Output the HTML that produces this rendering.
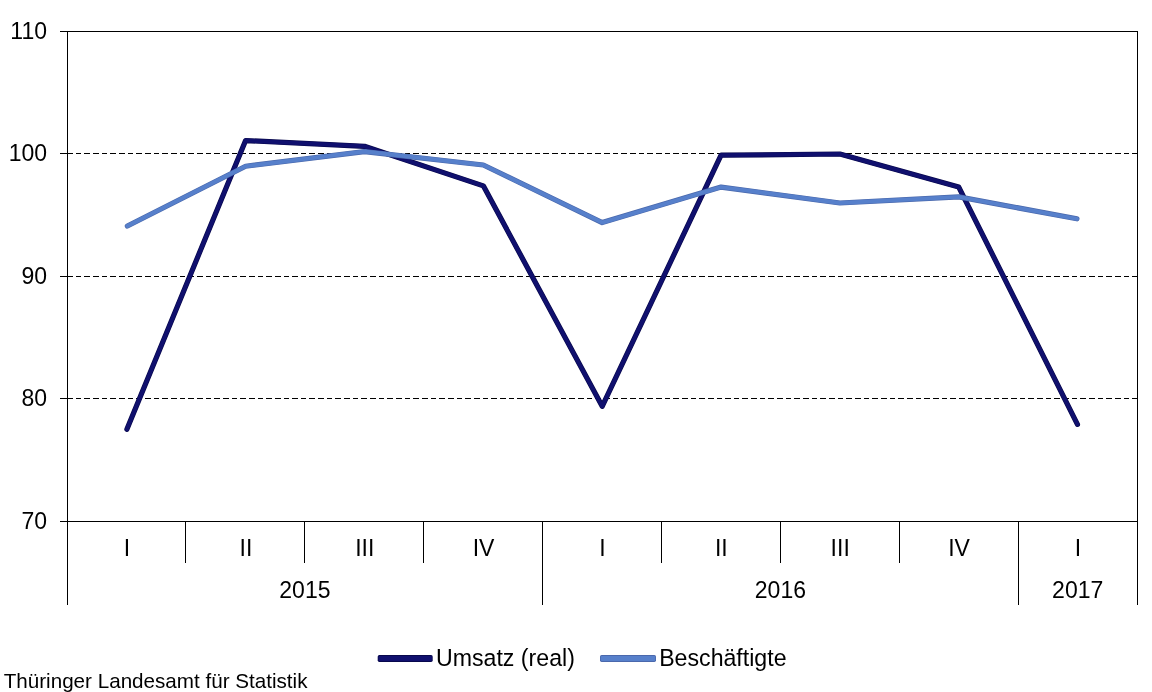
<!DOCTYPE html>
<html><head><meta charset="utf-8"><title>Chart</title>
<style>
html,body{margin:0;padding:0;background:#fff;}
body{width:1152px;height:692px;overflow:hidden;font-family:"Liberation Sans",sans-serif;}
svg{display:block;will-change:transform;}
text{font-family:"Liberation Sans",sans-serif;fill:#000;}
.ax{stroke:#000;stroke-width:1;shape-rendering:crispEdges;fill:none;}
.gr{stroke:#000;stroke-width:1;stroke-dasharray:5.66 3;shape-rendering:crispEdges;fill:none;}
.t{font-size:23px;}
</style></head><body>
<svg width="1152" height="692" viewBox="0 0 1152 692">
<rect width="1152" height="692" fill="#fff"/>

<line class="gr" x1="67.0" y1="153.5" x2="1137.5" y2="153.5"/>
<line class="gr" x1="67.0" y1="276.5" x2="1137.5" y2="276.5"/>
<line class="gr" x1="67.0" y1="398.5" x2="1137.5" y2="398.5"/>
<rect class="ax" x="67.5" y="31.5" width="1070.0" height="490.0"/>
<line class="ax" x1="60" y1="31.5" x2="67.5" y2="31.5"/>
<line class="ax" x1="60" y1="153.5" x2="67.5" y2="153.5"/>
<line class="ax" x1="60" y1="276.5" x2="67.5" y2="276.5"/>
<line class="ax" x1="60" y1="398.5" x2="67.5" y2="398.5"/>
<line class="ax" x1="60" y1="521.5" x2="67.5" y2="521.5"/>
<line class="ax" x1="67.5" y1="521.5" x2="67.5" y2="605"/>
<line class="ax" x1="1137.5" y1="521.5" x2="1137.5" y2="605"/>
<line class="ax" x1="185.5" y1="521.5" x2="185.5" y2="563"/>
<line class="ax" x1="304.5" y1="521.5" x2="304.5" y2="563"/>
<line class="ax" x1="423.5" y1="521.5" x2="423.5" y2="563"/>
<line class="ax" x1="542.5" y1="521.5" x2="542.5" y2="605"/>
<line class="ax" x1="661.5" y1="521.5" x2="661.5" y2="563"/>
<line class="ax" x1="780.5" y1="521.5" x2="780.5" y2="563"/>
<line class="ax" x1="899.5" y1="521.5" x2="899.5" y2="563"/>
<line class="ax" x1="1018.5" y1="521.5" x2="1018.5" y2="605"/>
<polyline points="126.90,429.26 245.61,140.53 364.47,146.28 483.33,185.85 602.19,406.35 721.05,155.22 839.91,154.00 958.77,187.08 1077.45,424.37" fill="none" stroke="#08084c" stroke-width="5.2" stroke-linejoin="round" stroke-linecap="round"/>
<polyline points="126.90,429.26 245.61,140.53 364.47,146.28 483.33,185.85 602.19,406.35 721.05,155.22 839.91,154.00 958.77,187.08 1077.45,424.37" fill="none" stroke="#10106e" stroke-width="3.9" stroke-linejoin="round" stroke-linecap="round"/>
<polyline points="127.37,225.96 245.61,166.25 364.47,151.55 483.33,165.03 602.19,222.60 721.05,187.08 839.91,203.00 958.77,196.88 1076.94,218.80" fill="none" stroke="#4a68ac" stroke-width="5.2" stroke-linejoin="round" stroke-linecap="round"/>
<polyline points="127.37,225.96 245.61,166.25 364.47,151.55 483.33,165.03 602.19,222.60 721.05,187.08 839.91,203.00 958.77,196.88 1076.94,218.80" fill="none" stroke="#5780cb" stroke-width="3.9" stroke-linejoin="round" stroke-linecap="round"/>
<text class="t" x="47" y="39.0" text-anchor="end">110</text>
<text class="t" x="47" y="161.0" text-anchor="end">100</text>
<text class="t" x="47" y="284.0" text-anchor="end">90</text>
<text class="t" x="47" y="406.0" text-anchor="end">80</text>
<text class="t" x="47" y="529.0" text-anchor="end">70</text>
<text class="t" x="127.0" y="555.7" text-anchor="middle">I</text>
<text class="t" x="245.9" y="555.7" text-anchor="middle">II</text>
<text class="t" x="364.8" y="555.7" text-anchor="middle">III</text>
<text class="t" x="483.6" y="555.7" text-anchor="middle">IV</text>
<text class="t" x="602.5" y="555.7" text-anchor="middle">I</text>
<text class="t" x="721.3" y="555.7" text-anchor="middle">II</text>
<text class="t" x="840.2" y="555.7" text-anchor="middle">III</text>
<text class="t" x="959.1" y="555.7" text-anchor="middle">IV</text>
<text class="t" x="1077.9" y="555.7" text-anchor="middle">I</text>
<text class="t" x="304.9" y="597.7" text-anchor="middle">2015</text>
<text class="t" x="780.4" y="597.7" text-anchor="middle">2016</text>
<text class="t" x="1077.7" y="597.7" text-anchor="middle">2017</text>
<rect x="377.7" y="655.1" width="55.0" height="6.8" rx="1.6" fill="#08084c"/>
<rect x="378.5" y="655.9" width="53.4" height="5.2" rx="1" fill="#10106e"/>
<text x="436" y="666" style="font-size:23.15px">Umsatz (real)</text>
<rect x="600.0" y="655.1" width="56.0" height="6.8" rx="1.6" fill="#4a68ac"/>
<rect x="600.8" y="655.9" width="54.4" height="5.2" rx="1" fill="#5780cb"/>
<text x="659.2" y="666" style="font-size:23.15px">Beschäftigte</text>
<text x="3.7" y="687.5" style="font-size:20.63px">Thüringer Landesamt für Statistik</text>
</svg></body></html>
